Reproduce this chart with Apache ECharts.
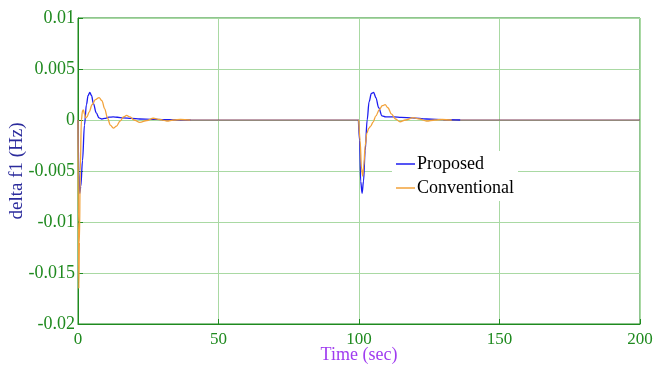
<!DOCTYPE html>
<html>
<head>
<meta charset="utf-8">
<script src="https://cdn.jsdelivr.net/npm/echarts@6/dist/echarts.min.js"></script>
<style>
html,body{margin:0;padding:0;background:#fff;}
#chart{width:654px;height:369px;}
</style>
</head>
<body>
<div id="chart"></div>
<script>
// ---- data ----
var xTicks = [0, 50, 100, 150, 200];
var yTicks = [-0.02, -0.015, -0.01, -0.005, 0, 0.005, 0.01];

var proposedT = [0, 0.3, 0.6, 1.0, 1.6, 2.3, 3.0, 3.6, 4.2, 4.8, 5.5, 6.5, 7.5, 8.5, 9.5, 11, 12.5, 14, 16, 19, 22, 26, 30, 35, 40,
  null,
  99.8, 100.2, 100.6, 101.1, 101.6, 102.2, 102.9, 103.6, 104.4, 105.2, 106.0, 107.0, 108.2, 109.5, 110.8, 112.5, 115, 119, 124, 131, 136];
var proposedV = [0, -0.005, -0.0072, -0.0065, -0.004, -0.0005, 0.0015, 0.0024, 0.0027, 0.0024, 0.0016, 0.0007, 0.0002, 0.0001, 0.00015, 0.00028, 0.0003, 0.00027, 0.0002, 0.00015, 0.0001, 0.00007, 0.00004, 0.00001, 0,
  null,
  0, -0.002, -0.006, -0.0072, -0.006, -0.003, 0, 0.0018, 0.0026, 0.0027, 0.0022, 0.0012, 0.0004, 0.0003, 0.0003, 0.0003, 0.00025, 0.0002, 0.0001, 0.00003, 0];

var conventionalT = [0, 0.15, 0.3, 0.5, 0.8, 1.2, 1.6, 1.9, 2.3, 2.7, 3.2, 4.0, 5.0, 6.2, 7.5, 8.5, 9.5, 10.5, 11.5, 12.6, 13.7, 15, 16.2, 17.3, 18.5, 20, 22, 24.5, 26.8, 29, 31.6, 34, 36.5, 40,
  null,
  99.9, 100.4, 100.9, 101.3, 101.7, 102.2, 102.8, 103.5, 104.2, 105, 106, 107.2, 108.3, 109.3, 110.3, 111.5, 113, 114.6, 116.5, 119.3, 121.5, 124, 127, 129.5, 133];
var conventionalV = [0, -0.01, -0.0165, -0.012, -0.005, 0, 0.0009, 0.001, 0.0006, 0.0002, 0.0003, 0.0008, 0.0015, 0.002, 0.0022, 0.0019, 0.0011, 0.0002, -0.0005, -0.0008, -0.0006, -0.0001, 0.0003, 0.00045, 0.0003, 0, -0.00023, -0.00005, 0.00017, 0.00005, -0.0001, 0, 0.00005, 0,
  null,
  0, -0.002, -0.0048, -0.0055, -0.0045, -0.0025, -0.0013, -0.0008, -0.0006, -0.0002, 0.0004, 0.001, 0.0014, 0.0015, 0.0012, 0.0006, 0.0001, -0.00017, 0, 0.00023, 0.0001, -0.0001, 0, 0.00005, 0];

var settledT = [30, 100, null, 130, 200];
var settledV = [0, 0, null, 0, 0];

function zip(t, v) {
  var out = [];
  for (var i = 0; i < t.length; i++) {
    out.push(t[i] === null ? [null, null] : [t[i], v[i]]);
  }
  return out;
}

var GREEN = '#1f8a1f';
var GRIDC = '#a9d9a3';
var FONT = '"Liberation Serif", "Times New Roman", serif';

var chart = echarts.init(document.getElementById('chart'), null, {renderer: 'canvas'});
chart.setOption({
  animation: false,
  backgroundColor: '#ffffff',
  grid: {left: 78, right: 14, top: 18, bottom: 45, show: true, borderColor: GREEN, borderWidth: 1,
    containLabel: false, outerBoundsMode: 'none'},
  legend: {
    data: ['Proposed', 'Conventional'],
    orient: 'vertical',
    left: 392, top: 151,
    backgroundColor: '#ffffff',
    padding: [4, 4, 4, 4],
    itemWidth: 19, itemHeight: 1.5, itemGap: 6,
    icon: 'rect',
    textStyle: {fontFamily: FONT, fontSize: 18, color: '#000', padding: [0, 0, 0, -3]}
  },
  xAxis: {
    type: 'value', min: 0, max: 200, interval: 50,
    name: 'Time (sec)', nameLocation: 'middle', nameGap: 22, nameMoveOverlap: false,
    nameTextStyle: {fontFamily: FONT, fontSize: 18, color: '#a03cf0'},
    axisLine: {show: true, onZero: false, lineStyle: {color: GREEN, width: 1}},
    axisTick: {show: true, inside: true, length: 5, lineStyle: {color: GREEN}},
    axisLabel: {fontFamily: FONT, fontSize: 17, color: GREEN, margin: 7,
      formatter: function (v) { return xTicks.indexOf(v) >= 0 ? String(v) : ''; }},
    splitLine: {show: true, lineStyle: {color: GRIDC, width: 1}}
  },
  yAxis: {
    type: 'value', min: -0.02, max: 0.01, interval: 0.005,
    name: 'delta f1 (Hz)', nameLocation: 'middle', nameGap: 51, nameRotate: 90, nameMoveOverlap: false,
    nameTextStyle: {fontFamily: FONT, fontSize: 19, color: '#2b2b9c'},
    axisLine: {show: true, onZero: false, lineStyle: {color: GREEN, width: 1}},
    axisTick: {show: true, inside: true, length: 5, lineStyle: {color: GREEN}},
    axisLabel: {fontFamily: FONT, fontSize: 18, color: GREEN, margin: 3,
      formatter: function (v) {
        var r = Math.round(v * 1000) / 1000;
        for (var i = 0; i < yTicks.length; i++) { if (Math.abs(yTicks[i] - r) < 1e-9) return String(yTicks[i]); }
        return '';
      }},
    splitLine: {show: true, lineStyle: {color: GRIDC, width: 1}}
  },
  series: [
    {name: 'settled', type: 'line', data: zip(settledT, settledV), symbol: 'none', silent: true,
      lineStyle: {color: '#7e3b56', width: 1.2}, z: 2},
    {name: 'Proposed', type: 'line', data: zip(proposedT, proposedV), symbol: 'none', showSymbol: false,
      smooth: 0.35, smoothMonotone: 'x', connectNulls: false,
      itemStyle: {color: '#1c1cf0'}, lineStyle: {color: '#1c1cf0', width: 1.3}, z: 3},
    {name: 'Conventional', type: 'line', data: zip(conventionalT, conventionalV), symbol: 'none', showSymbol: false,
      smooth: 0.35, smoothMonotone: 'x', connectNulls: false,
      itemStyle: {color: '#f2a23a'}, lineStyle: {color: '#f2a23a', width: 1.3}, z: 4}
  ]
});
</script>
</body>
</html>
